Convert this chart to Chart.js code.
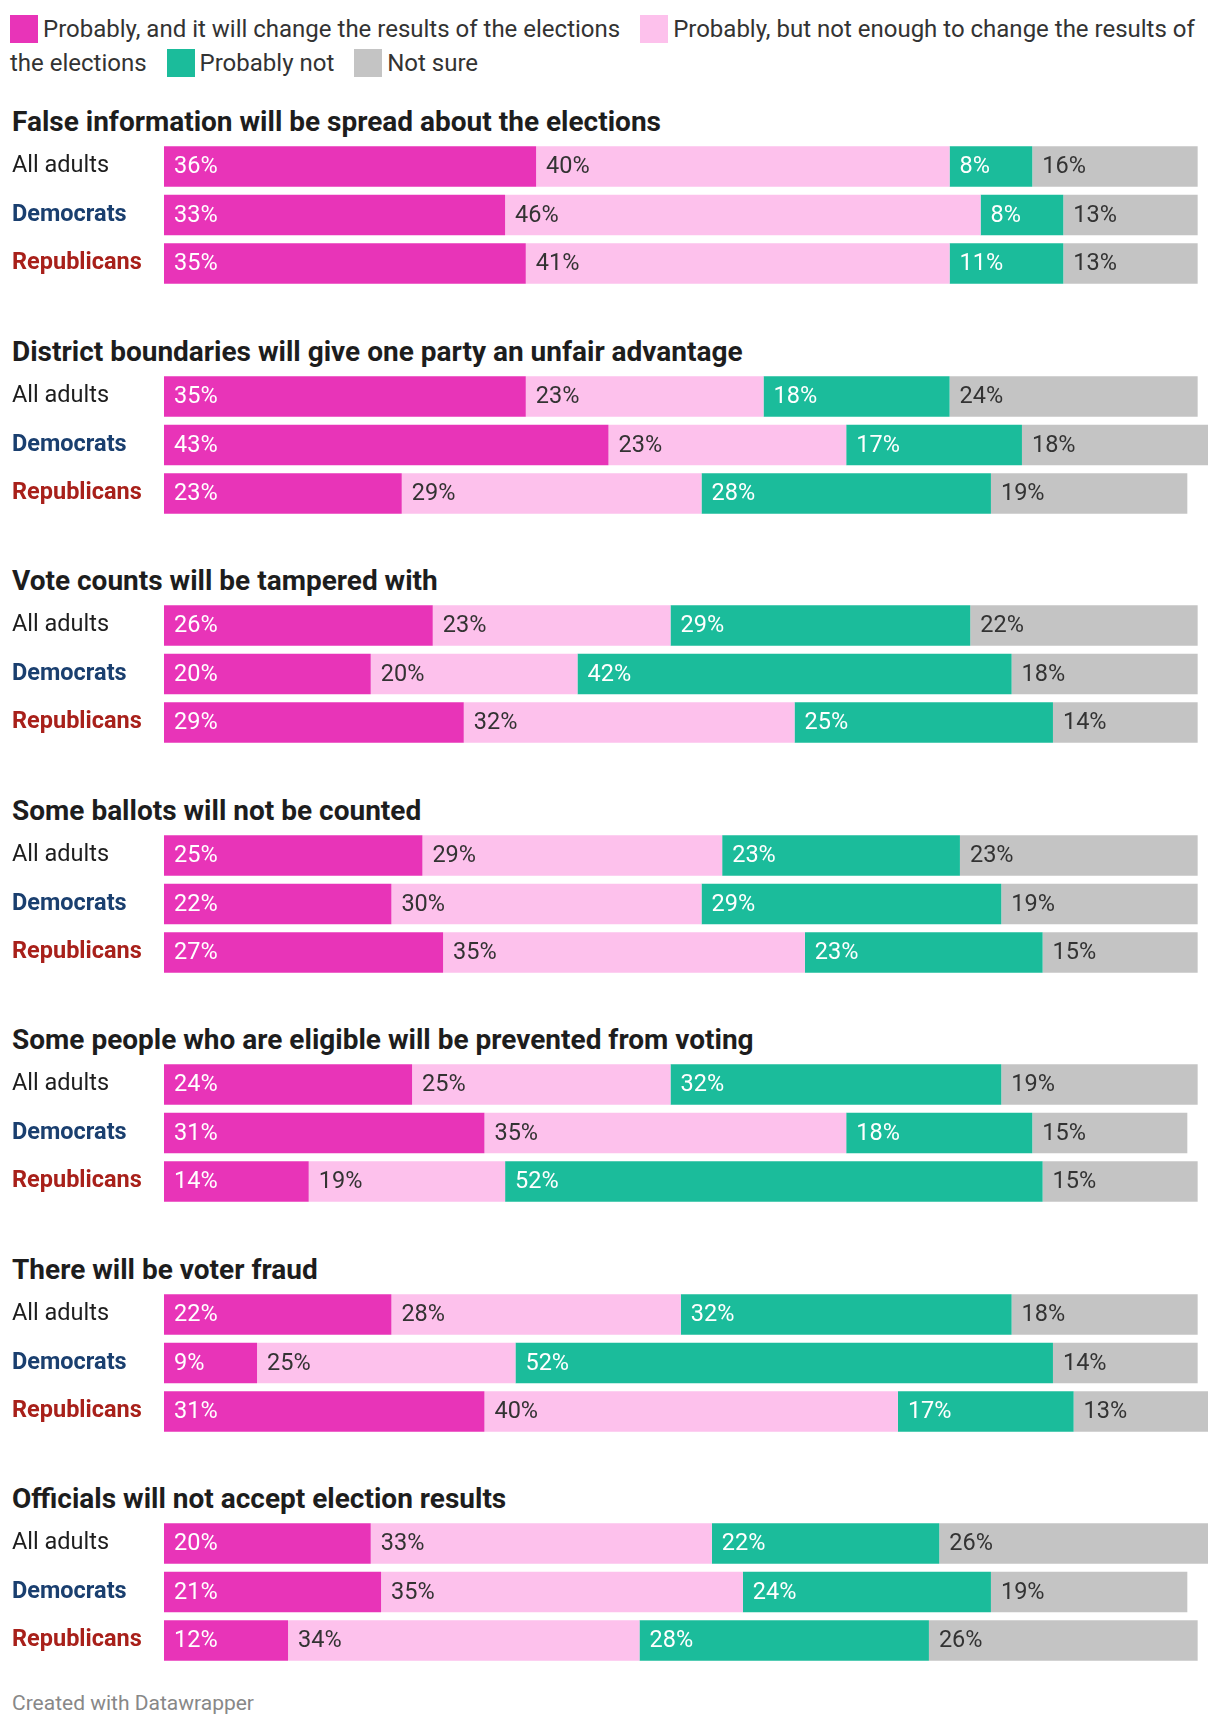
<!DOCTYPE html>
<html>
<head>
<meta charset="utf-8">
<script src="https://cdn.jsdelivr.net/npm/chart.js@4"></script>
<style>
  body { margin: 0; font-family: Roboto, sans-serif; background: #fff; width: 1220px; }
  #legend { height: 101px; padding: 12px 10px 0 10px; box-sizing: border-box; font-size: 24px; line-height: 34px; color: #333; }
  .key { display: inline-block; width: 28px; height: 28px; vertical-align: -6px; margin-right: 5px; }
  .item { margin-right: 14px; }
  .group { height: 229.5px; }
  .group h2 { margin: 0 0 0 12px; height: 41px; line-height: 41px; font-size: 28px; font-weight: 700; color: #1d1d1d; }
  .wrap { position: relative; width: 1220px; height: 174px; margin-top: -14px; }
  #footer { padding-left: 12px; margin-top: -17px; font-size: 21px; color: #888; }
</style>
</head>
<body>
<div id="legend">
  <span class="key" style="background:#e834b8"></span>Probably, and it will change the results of the elections<span class="item"></span>
  <span class="key" style="background:#fdc1ec"></span>Probably, but not enough to change the results of the elections<span class="item"></span>
  <span class="key" style="background:#1bbc9b"></span>Probably not<span class="item"></span>
  <span class="key" style="background:#c4c4c4"></span>Not sure
</div>
<div id="charts"></div>
<div id="footer">Created with Datawrapper</div>
<script>
const colors = ['#e834b8', '#fdc1ec', '#1bbc9b', '#c4c4c4'];
const textColors = ['#ffffff', '#333333', '#ffffff', '#333333'];
const rows = ['All adults', 'Democrats', 'Republicans'];
const rowColors = ['#1d1d1d', '#1a3f6f', '#a8201a'];

const groups = [
  { title: 'False information will be spread about the elections',
    data: [[36, 40, 8, 16], [33, 46, 8, 13], [35, 41, 11, 13]] },
  { title: 'District boundaries will give one party an unfair advantage',
    data: [[35, 23, 18, 24], [43, 23, 17, 18], [23, 29, 28, 19]] },
  { title: 'Vote counts will be tampered with',
    data: [[26, 23, 29, 22], [20, 20, 42, 18], [29, 32, 25, 14]] },
  { title: 'Some ballots will not be counted',
    data: [[25, 29, 23, 23], [22, 30, 29, 19], [27, 35, 23, 15]] },
  { title: 'Some people who are eligible will be prevented from voting',
    data: [[24, 25, 32, 19], [31, 35, 18, 15], [14, 19, 52, 15]] },
  { title: 'There will be voter fraud',
    data: [[22, 28, 32, 18], [9, 25, 52, 14], [31, 40, 17, 13]] },
  { title: 'Officials will not accept election results',
    data: [[20, 33, 22, 26], [21, 35, 24, 19], [12, 34, 28, 26]] },
];

const valueLabels = {
  id: 'valueLabels',
  afterDatasetsDraw(chart) {
    const ctx = chart.ctx;
    ctx.save();
    ctx.font = '23.5px Roboto';
    ctx.textBaseline = 'middle';
    chart.data.datasets.forEach((ds, i) => {
      chart.getDatasetMeta(i).data.forEach((bar, j) => {
        ctx.fillStyle = textColors[i];
        ctx.fillText(ds.data[j] + '%', bar.base + 10, bar.y + 1);
      });
    });
    ctx.restore();
  }
};

function drawGroup(g, idx) {
  const div = document.createElement('div');
  div.className = 'group';
  div.innerHTML = '<h2>' + g.title + '</h2><div class="wrap"><canvas id="c' + idx + '"></canvas></div>';
  document.getElementById('charts').appendChild(div);
  new Chart(document.getElementById('c' + idx).getContext('2d'), {
    type: 'bar',
    data: {
      labels: rows,
      datasets: colors.map((c, k) => ({
        data: g.data.map(r => r[k]),
        backgroundColor: c,
        borderWidth: 0,
        categoryPercentage: 1,
        barPercentage: 40 / 48,
      })),
    },
    options: {
      indexAxis: 'y',
      responsive: true,
      maintainAspectRatio: false,
      animation: false,
      layout: { autoPadding: false, padding: { left: 12, right: 12, top: 0, bottom: 0 } },
      plugins: { legend: { display: false }, tooltip: { enabled: false } },
      scales: {
        x: { stacked: true, min: 0, max: 101, display: false },
        y: {
          stacked: true,
          grid: { display: false },
          border: { display: false },
          afterFit(scale) { scale.width = 152; },
          ticks: {
            crossAlign: 'far',
            padding: 0,
            font: (c) => ({ family: 'Roboto', size: 23.5, weight: c.index === 0 ? 'normal' : 'bold' }),
            color: (c) => rowColors[c.index],
          },
        },
      },
    },
    plugins: [valueLabels],
  });
}

groups.forEach(drawGroup);
</script>
</body>
</html>
